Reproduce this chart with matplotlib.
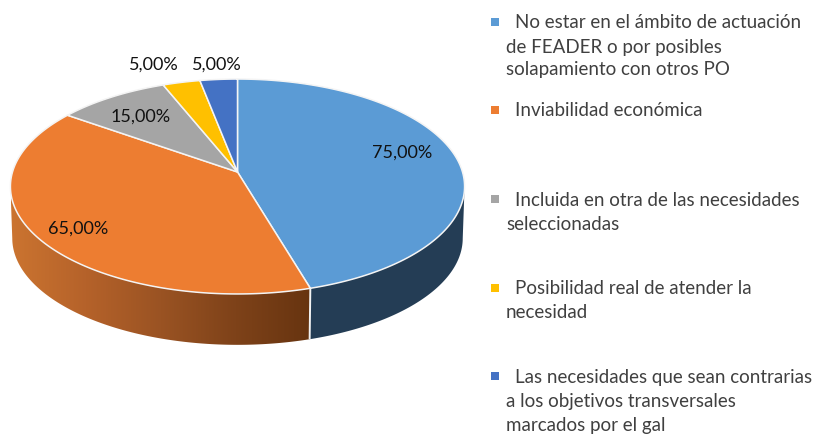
import numpy as np
import matplotlib
matplotlib.use("Agg")
import matplotlib.pyplot as plt
from matplotlib.patches import Polygon, Rectangle
from matplotlib.colors import LinearSegmentedColormap

plt.rcParams['font.family'] = ['Lato', 'DejaVu Sans']

values = [75, 65, 15, 5, 5]
colors = ['#5B9BD5', '#ED7D31', '#A5A5A5', '#FFC000', '#4472C4']
legend_lines = [
    ['No estar en el ámbito de actuación', 'de FEADER o por posibles', 'solapamiento con otros PO'],
    ['Inviabilidad económica'],
    ['Incluida en otra de las necesidades', 'seleccionadas'],
    ['Posibilidad real de atender la', 'necesidad'],
    ['Las necesidades que sean contrarias', 'a los objetivos transversales', 'marcados por el gal'],
]
legend_y = [[22, 46, 69], [110], [199, 223], [288, 311], [376, 401, 425]]
label_xy = [(402, 151), (78, 227), (141, 115), (154, 63), (217, 63)]

fig = plt.figure(figsize=(8.13, 4.34), dpi=100)
ax = fig.add_axes([0, 0, 1, 1])
ax.set_xlim(0, 813)
ax.set_ylim(434, 0)
ax.axis('off')

CX, CY, A, C, K = 237.5, 172.0, 225.0, 105.5, 0.135
DEPTH = 52.0
LOWER_R = 0.992


def project(deg, r=1.0, drop=0.0):
    t = np.radians(deg)
    x, y = r * np.sin(t), r * np.cos(t)
    w = 1 + K * y
    return np.column_stack([CX + A * x / w, CY - C * y / w + drop])


edges = np.concatenate([[0], np.cumsum(values)]) / np.sum(values) * 360

# visible side wall
grid = np.linspace(0, 360, 3601)
right_deg = grid[np.argmax(project(grid)[:, 0])]
left_deg = grid[np.argmin(project(grid)[:, 0])]


def side_path(a, b):
    d = np.linspace(a, b, 200)
    return np.vstack([project(d), project(d[::-1], r=LOWER_R, drop=DEPTH)])


ax.add_patch(Polygon(side_path(right_deg, edges[1]), closed=True, fc='#243D55', ec='none', zorder=1))
side2 = Polygon(side_path(edges[1], left_deg), closed=True, fc='none', ec='none', zorder=1)
ax.add_patch(side2)
cmap = LinearSegmentedColormap.from_list('side', ['#CB7430', '#B5622A', '#9A5323', '#7E4219', '#673410'])
img = ax.imshow(np.linspace(0, 1, 256)[None, :], extent=(11, 310, 434, 0), cmap=cmap,
                aspect='auto', zorder=1)
img.set_clip_path(side2)
ax.set_xlim(0, 813)
ax.set_ylim(434, 0)

# white seam on the side
seam = np.vstack([project(edges[1]), project(edges[1], r=LOWER_R, drop=DEPTH - 1)])
ax.plot(seam[:, 0], seam[:, 1], color='#F2F2F2', lw=1.4, zorder=2)

# top surface
for i, col in enumerate(colors):
    d = np.linspace(edges[i], edges[i + 1], 200)
    pts = np.vstack([[CX, CY], project(d)])
    ax.add_patch(Polygon(pts, closed=True, fc=col, ec='#F4F4F4', lw=1.1, joinstyle='round', zorder=3))

# data labels
for v, (x, y) in zip(values, label_xy):
    ax.text(x, y + 1.5, f"{v:.2f}".replace('.', ',') + '%', ha='center', va='center',
            fontsize=13.0, color='#111111', zorder=5)

# legend
for col, lines, ys in zip(colors, legend_lines, legend_y):
    ax.add_patch(Rectangle((491, ys[0] - 4), 8, 8, fc=col, ec='none', zorder=4))
    for j, (t, y) in enumerate(zip(lines, ys)):
        ax.text(515 if j == 0 else 506, y + 1, t, ha='left', va='center',
                fontsize=13.5, color='#404040', zorder=5)

fig.savefig('out.png', dpi=100)
